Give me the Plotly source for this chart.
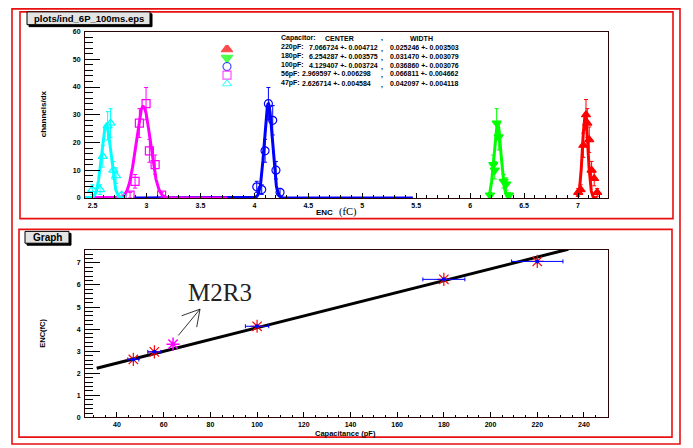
import numpy as np
import plotly.graph_objects as go

W, H = 693, 448

# ---------------- data ----------------
capacitor_labels = ["220pF", "180pF", "100pF", "56pF", "47pF"]
capacitance_pf = [220, 180, 100, 56, 47]
capacitance_err = [11.0, 9.0, 5.0, 2.8, 2.35]
center_fc = [7.066724, 6.254287, 4.129407, 2.969597, 2.626714]
center_err = [0.004712, 0.003575, 0.003724, 0.006298, 0.004584]
width_fc = [0.025246, 0.031470, 0.036860, 0.066811, 0.042097]
width_err = [0.003503, 0.003079, 0.003076, 0.004662, 0.004118]
peak_counts = [30.0, 27.0, 34.0, 33.0, 26.5]
fit_low = [6.99, 6.17, 2.88, 2.40, 2.40]
fit_high = [7.18, 6.36, 5.47, 3.75, 2.78]

hist_220_x = [7.002, 7.024, 7.049, 7.074, 7.086, 7.104, 7.126, 7.150, 7.178]
hist_220_y = [2, 3, 19, 30, 27, 21, 10, 7, 2]
hist_180_x = [6.184, 6.215, 6.228, 6.246, 6.265, 6.310, 6.335, 6.360]
hist_180_y = [1, 12, 10, 27, 22, 6, 5, 1]
hist_100_x = [4.022, 4.068, 4.099, 4.130, 4.170, 4.200, 4.238]
hist_100_y = [4, 3, 17, 34, 28, 10, 2]
hist_56_x = [2.848, 2.894, 2.934, 2.996, 3.027, 3.080, 3.140]
hist_56_y = [1, 6, 27, 34, 17, 12, 1]
hist_47_x = [2.498, 2.570, 2.595, 2.640, 2.667, 2.693, 2.718, 2.770]
hist_47_y = [3, 3, 15, 26, 27, 10, 8, 1]

hist_x = [hist_220_x, hist_180_x, hist_100_x, hist_56_x, hist_47_x]
hist_y = [hist_220_y, hist_180_y, hist_100_y, hist_56_y, hist_47_y]

outlier_cap = [64.0]
outlier_enc = [3.32]

line_fit_intercept = 1.395
line_fit_slope = 0.02668
line_fit_range = [31.3, 233.3]

series_colors = ["#ff0000", "#00ff00", "#0000ff", "#ff00ff", "#00ffff"]
series_symbols = ["triangle-up", "triangle-down", "circle-open", "square-open", "triangle-up-open"]
legend_sizes = [10, 10, 8, 8, 8]


def PX(x):
    return x / W


def PY(y):
    return 1 - y / H


fig = go.Figure()

# ---------------- top panel ----------------
for i in range(5):
    yy = np.array(hist_y[i], dtype=float)
    fig.add_trace(go.Scatter(
        x=hist_x[i], y=hist_y[i], mode="markers", xaxis="x", yaxis="y",
        marker=dict(symbol=series_symbols[i], size=8, color=series_colors[i],
                    line=dict(color=series_colors[i], width=1.2)),
        error_y=dict(type="data", array=list(np.sqrt(yy)), color=series_colors[i],
                     thickness=1, width=2),
        showlegend=False, hoverinfo="skip"))
    xs = np.linspace(fit_low[i], fit_high[i], 500)
    ys = peak_counts[i] * np.exp(-0.5 * ((xs - center_fc[i]) / width_fc[i]) ** 2)
    fig.add_trace(go.Scatter(
        x=xs, y=ys, mode="lines", xaxis="x", yaxis="y",
        line=dict(color=series_colors[i], width=3),
        showlegend=False, hoverinfo="skip"))

# legend markers (own invisible axes)
fig.add_trace(go.Scatter(
    x=[0] * 5, y=[4 - i for i in range(5)], mode="markers", xaxis="x3", yaxis="y3",
    marker=dict(symbol=series_symbols, size=legend_sizes, color=series_colors,
                line=dict(color=series_colors, width=1.2)),
    showlegend=False, hoverinfo="skip"))

# ---------------- bottom panel ----------------
lx = np.array(line_fit_range)
fig.add_trace(go.Scatter(
    x=lx, y=line_fit_intercept + line_fit_slope * lx, mode="lines",
    xaxis="x2", yaxis="y2", line=dict(color="black", width=3),
    showlegend=False, hoverinfo="skip"))
fig.add_trace(go.Scatter(
    x=capacitance_pf, y=center_fc, mode="markers", xaxis="x2", yaxis="y2",
    marker=dict(symbol="asterisk-open", size=11, color="red",
                line=dict(color="red", width=1.2)),
    showlegend=False, hoverinfo="skip"))
fig.add_trace(go.Scatter(
    x=capacitance_pf, y=center_fc, mode="markers", xaxis="x2", yaxis="y2",
    marker=dict(symbol="circle", size=4, color="blue"),
    error_x=dict(type="data", array=capacitance_err, color="blue", thickness=1, width=2),
    error_y=dict(type="data", array=center_err, color="blue", thickness=1, width=2),
    showlegend=False, hoverinfo="skip"))
fig.add_trace(go.Scatter(
    x=outlier_cap, y=outlier_enc, mode="markers", xaxis="x2", yaxis="y2",
    marker=dict(symbol="asterisk-open", size=11, color="#ff00ff",
                line=dict(color="#ff00ff", width=1.5)),
    showlegend=False, hoverinfo="skip"))

# ---------------- axes ----------------
tickfont = dict(family="Liberation Sans", size=7, color="black", weight="bold")
axcol = "#2a0505"
common = dict(showgrid=False, zeroline=False, showline=True, linecolor=axcol,
              linewidth=1, mirror=True, ticks="inside", tickcolor="black",
              tickfont=tickfont)

xdom = [PX(85), PX(608)]
fig.update_layout(
    xaxis=dict(domain=xdom, anchor="y", range=[2.43, 7.278], tick0=0, dtick=0.5,
               ticklen=5, ticklabelstandoff=1,
               minor=dict(dtick=0.1, ticklen=2.5, ticks="inside", tickcolor="black"),
               **common),
    yaxis=dict(domain=[PY(197), PY(28)], anchor="x", range=[0, 60], tick0=0, dtick=10,
               ticklen=15, ticklabelstandoff=2,
               minor=dict(dtick=2, ticklen=8, ticks="inside", tickcolor="black"),
               **common),
    xaxis2=dict(domain=xdom, anchor="y2", range=[26.3, 250.3], tick0=0, dtick=20,
                ticklen=5, ticklabelstandoff=0,
                minor=dict(dtick=5, ticklen=2.5, ticks="inside", tickcolor="black"),
                **common),
    yaxis2=dict(domain=[PY(420), PY(250)], anchor="x2", range=[0, 7.58], tick0=0, dtick=1,
                ticklen=15, ticklabelstandoff=2,
                minor=dict(dtick=0.2, ticklen=8, ticks="inside", tickcolor="black"),
                **common),
    xaxis3=dict(domain=[PX(217), PX(237)], anchor="y3", range=[-1, 1], visible=False),
    yaxis3=dict(domain=[PY(85.4), PY(41.6)], anchor="x3", range=[-0.5, 4.5], visible=False),
)

# ---------------- pad frames / boxes ----------------
shapes = []


def rect(x0, y0, x1, y1, color, width=1.5, fill=None):
    d = dict(type="rect", xref="paper", yref="paper", x0=PX(x0), x1=PX(x1),
             y0=PY(y1), y1=PY(y0), line=dict(color=color, width=width))
    if fill is not None:
        d["fillcolor"] = fill
    shapes.append(d)


def seg(x0, y0, x1, y1, color="black", width=0.8):
    shapes.append(dict(type="line", xref="paper", yref="paper", x0=PX(x0), y0=PY(y0),
                       x1=PX(x1), y1=PY(y1), line=dict(color=color, width=width)))


rect(12, 5, 680, 447, "#e81010", 1.6)
rect(20, 8, 673, 218, "#e81010", 1.6)
rect(19, 229, 672, 440, "#e81010", 1.6)
# title boxes with shadow
rect(29, 10, 152, 23, "black", 1, "black")
rect(27, 8, 150, 21, "black", 1, "#e4e4e4")
rect(27, 233, 71, 245, "black", 1, "black")
rect(25, 231, 69, 243, "black", 1, "#e4e4e4")
# M2R3 arrow (annotation graphics)
seg(178.3, 336.7, 200, 310)
seg(181.7, 316.7, 200, 310)
seg(196.7, 328.3, 200, 310)
fig.update_layout(shapes=shapes)

ann = []


def text(x, y, s, size=7, xanchor="left", family="Liberation Sans", bold=True, angle=0, color="black"):
    f = dict(family=family, size=size, color=color)
    if bold:
        f["weight"] = "bold"
    ann.append(dict(xref="paper", yref="paper", x=PX(x), y=PY(y), text=s, showarrow=False,
                    xanchor=xanchor, yanchor="middle", font=f, textangle=angle))


text(88.5, 14.5, "plots/ind_6P_100ms.eps", 9.5, "center")
text(47, 237, "Graph", 10, "center")

# axis titles
text(43, 112, "channels/dx", 8, "center", angle=-90)
text(43, 335, "ENC(fC)", 7.5, "center", angle=-90)
text(335, 212, "ENC", 8, "right")
text(337, 211, "(fC)", 10.5, "left", family="Liberation Serif", bold=False)
text(345.5, 436, "Capacitance (pF)", 7.5, "center")

# legend text
lsize = 7
text(279, 35, "Capacitor:", lsize)
text(323, 35, "CENTER", lsize)
text(382, 35, ",", lsize, "center")
text(408, 35, "WIDTH", lsize)
rows_y = [44, 53, 62, 71, 80.5]
value_x = [307, 307, 307, 300, 300]
for i in range(5):
    text(279, rows_y[i], capacitor_labels[i] + ":", lsize)
    text(value_x[i], rows_y[i], f"{center_fc[i]:.6f} +- {center_err[i]:.6f}", lsize)
    text(382, rows_y[i] + 1.5, ",", lsize, "center")
    text(388, rows_y[i], f"{width_fc[i]:.6f} +- {width_err[i]:.6f}", lsize)

# M2R3 label
ann.append(dict(xref="paper", yref="paper", x=PX(220), y=PY(293), text="M2R3",
                showarrow=False, xanchor="center", yanchor="middle",
                font=dict(family="Liberation Serif", size=25, color="#222222")))

fig.update_layout(annotations=ann)

fig.update_layout(width=W, height=H, autosize=False,
                  margin=dict(l=0, r=0, t=0, b=0),
                  paper_bgcolor="white", plot_bgcolor="white")

fig.write_html("out.html", config={"displayModeBar": False},
               post_script="document.body.style.margin='0px';document.body.style.overflow='hidden';")
